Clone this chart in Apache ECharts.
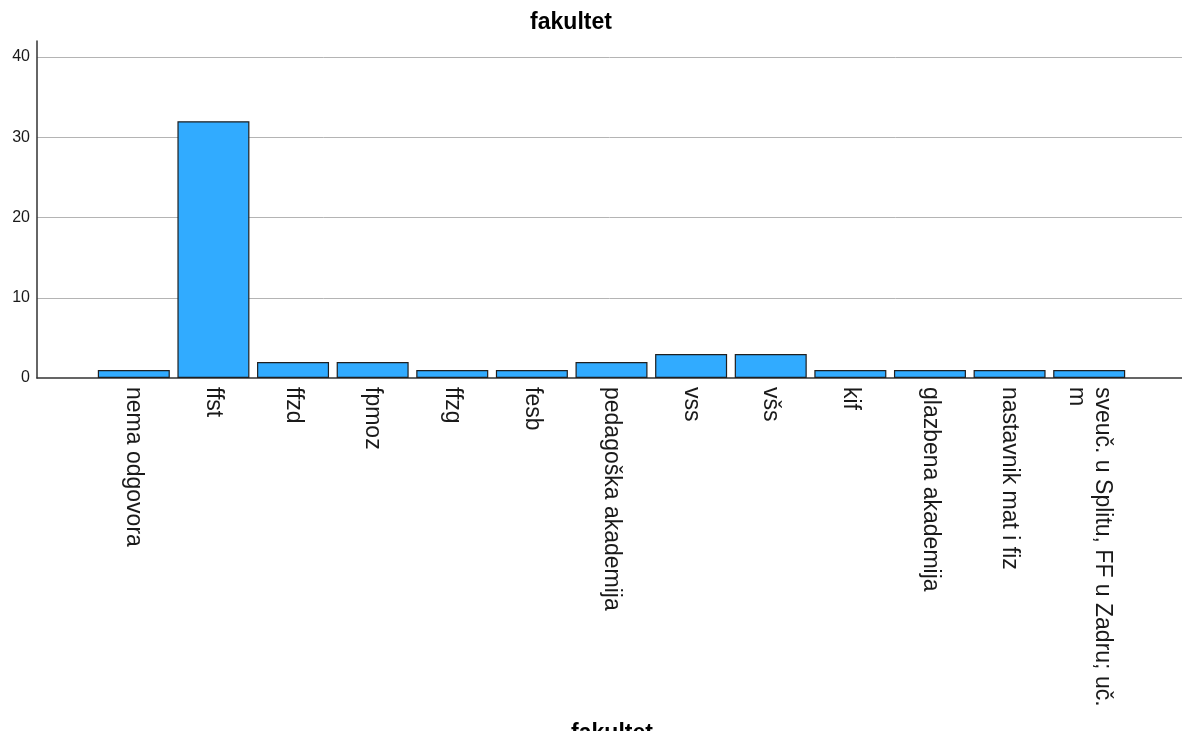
<!DOCTYPE html>
<html>
<head>
<meta charset="utf-8">
<script src="https://cdn.jsdelivr.net/npm/echarts@6/dist/echarts.min.js"></script>
<style>
html,body{margin:0;padding:0;background:#fff;}
#chart{width:1182px;height:731px;}
</style>
</head>
<body>
<div id="chart"></div>
<script>
var chartTitle = 'fakultet';
var axisName = 'fakultet';
var categories = ['nema odgovora', 'ffst', 'ffzd', 'fpmoz', 'ffzg', 'fesb', 'pedagoška akademija', 'vss', 'všs', 'kif', 'glazbena akademija', 'nastavnik mat i fiz', 'sveuč. u Splitu, FF u Zadru; uč.\nm'];
var counts = [1, 32, 2, 2, 1, 1, 2, 3, 3, 1, 1, 1, 1];
var yMin = 0, yMax = 42, yStep = 10;

var FONT = '"Liberation Sans", Arial, sans-serif';
var chart = echarts.init(document.getElementById('chart'), null, {renderer: 'canvas'});
chart.setOption({
  animation: false,
  backgroundColor: '#ffffff',
  title: [
    {text: chartTitle, left: 566, top: 6, textAlign: 'center',
     textStyle: {fontFamily: FONT, fontSize: 23, fontWeight: 'bold', color: '#000'}},
    {text: axisName, left: 607, top: 717, textAlign: 'center',
     textStyle: {fontFamily: FONT, fontSize: 23, fontWeight: 'bold', color: '#000'}}
  ],
  grid: [
    {left: 37, right: 0, top: 41, bottom: 353},
    {left: 94, right: 53, top: 41, bottom: 353}
  ],
  xAxis: [
    {type: 'value', gridIndex: 0, min: 0, max: 1,
     axisLine: {show: true, onZero: false, lineStyle: {color: '#333', width: 1.5}},
     axisTick: {show: false}, axisLabel: {show: false}, splitLine: {show: false}},
    {type: 'category', gridIndex: 1, data: categories,
     axisLine: {show: false}, axisTick: {show: false},
     axisLabel: {interval: 0, rotate: -90, margin: 9, fontFamily: FONT, fontSize: 23, color: '#1a1a1a', lineHeight: 26}}
  ],
  yAxis: [
    {type: 'value', gridIndex: 0, min: yMin, max: yMax, interval: yStep,
     axisLine: {show: true, lineStyle: {color: '#333', width: 1.5}},
     axisTick: {show: false},
     axisLabel: {showMaxLabel: false, margin: 7, fontFamily: FONT, fontSize: 16, color: '#1a1a1a'},
     splitLine: {show: true, showMaxLine: false, showMinLine: false, lineStyle: {color: '#b4b4b4', width: 1}}},
    {type: 'value', gridIndex: 1, min: yMin, max: yMax, show: false}
  ],
  series: [{
    type: 'bar', xAxisIndex: 1, yAxisIndex: 1, data: counts,
    barWidth: 72,
    itemStyle: {color: '#31abff', borderColor: '#1f1f1f', borderWidth: 1.2}
  }]
});
</script>
</body>
</html>
